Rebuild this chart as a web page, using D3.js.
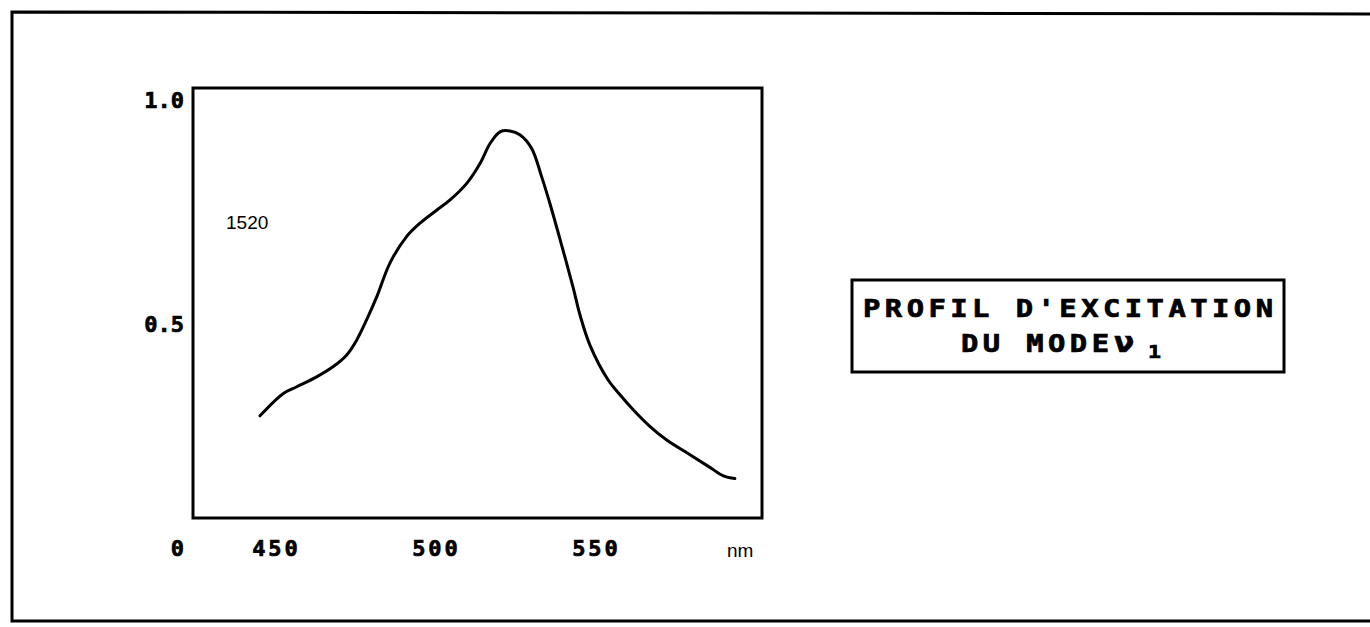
<!DOCTYPE html>
<html>
<head>
<meta charset="utf-8">
<script src="https://cdn.jsdelivr.net/npm/d3@7"></script>
<style>
  html, body { margin: 0; padding: 0; background: #fff; }
  svg { display: block; }
  .plotter { font-family: "DejaVu Sans Mono", monospace; font-weight: bold; fill: #000;
             stroke: #000; stroke-width: 0.7px; }
  .plain { font-family: "Liberation Sans", Arial, sans-serif; fill: #000; }
</style>
</head>
<body>
<svg id="chart" width="1370" height="627"></svg>
<script>
// Excitation profile of mode ν1 (sample 1520): intensity vs wavelength (nm)
const wavelengths = [445, 452.3, 456.5, 462.7, 467.9, 472.1, 475.2, 478.3, 481.5, 485.6,
                     490.8, 495, 500.2, 504.4, 509.6, 513.8, 516.9, 520, 523.1, 526.3,
                     529.9, 533, 535.6, 538.8, 542.9, 545, 548.1, 553.8, 557.5, 561.7,
                     566.9, 572.1, 579.4, 585.6, 589.8, 593.4];
const intensity   = [0.295, 0.345, 0.36, 0.382, 0.405, 0.431, 0.464, 0.509, 0.561, 0.636,
                     0.695, 0.725, 0.754, 0.777, 0.814, 0.859, 0.903, 0.929, 0.931, 0.922,
                     0.892, 0.829, 0.769, 0.688, 0.58, 0.52, 0.453, 0.375, 0.342, 0.308,
                     0.271, 0.241, 0.208, 0.18, 0.161, 0.155];

const xTicks = [450, 500, 550];
const yTicks = [0, 0.5, 1.0];
const yTickText = ["0", "0.5", "1.0"];
const unitLabel = "nm";
const sampleLabel = "1520";
const titleLine1 = "PROFIL D'EXCITATION";
const titleLine2 = "DU MODE";
const modeSymbol = "ν";
const modeIndex = "1";

const svg = d3.select("#chart");

// page frame (open on the right)
svg.append("path")
  .attr("d", "M1370,14 L12,12 L12,621 L1370,621")
  .attr("fill", "none").attr("stroke", "#000").attr("stroke-width", 3);

// plot frame
const frame = { left: 193, top: 88, right: 762, bottom: 518 };
svg.append("rect")
  .attr("x", frame.left).attr("y", frame.top)
  .attr("width", frame.right - frame.left).attr("height", frame.bottom - frame.top)
  .attr("fill", "none").attr("stroke", "#000").attr("stroke-width", 3);

const x = d3.scaleLinear().domain([450, 600]).range([276, 756]);
const y = d3.scaleLinear().domain([0, 1]).range([548, 100]);

// y axis labels
const yAxis = d3.axisLeft(y).tickValues(yTicks)
  .tickSize(0).tickPadding(0)
  .tickFormat((d, i) => yTickText[i]);
const gy = svg.append("g").attr("transform", "translate(184,0)").call(yAxis);
gy.select(".domain").remove();
gy.selectAll("text")
  .attr("class", "plotter")
  .attr("font-size", 22)
  .attr("dy", "0.36em")
  .style("font-feature-settings", '"zero"');

// x axis labels
const xAxis = d3.axisBottom(x).tickValues(xTicks)
  .tickSize(0).tickPadding(0)
  .tickFormat(d3.format("d"));
const gx = svg.append("g").attr("transform", "translate(0,548)").call(xAxis);
gx.select(".domain").remove();
gx.selectAll("text")
  .attr("class", "plotter")
  .attr("font-size", 22)
  .attr("letter-spacing", 3)
  .attr("dy", "0.36em")
  .style("font-feature-settings", '"zero"');

svg.append("text").attr("class", "plain")
  .attr("x", 727).attr("y", 557).attr("font-size", 19)
  .text(unitLabel);

svg.append("text").attr("class", "plain")
  .attr("x", 226).attr("y", 229).attr("font-size", 19)
  .text(sampleLabel);

// curve
const line = d3.line()
  .x((d, i) => x(wavelengths[i]))
  .y(d => y(d))
  .curve(d3.curveCatmullRom.alpha(0.5));
svg.append("path")
  .datum(intensity)
  .attr("d", line)
  .attr("fill", "none").attr("stroke", "#000")
  .attr("stroke-width", 3)
  .attr("stroke-linejoin", "round").attr("stroke-linecap", "round");

// title box
svg.append("rect")
  .attr("x", 852).attr("y", 280).attr("width", 432).attr("height", 92)
  .attr("fill", "none").attr("stroke", "#000").attr("stroke-width", 3);

// title text, widened horizontally like plotter lettering
const sx = 1.2;
svg.append("text").attr("class", "plotter")
  .attr("transform", `translate(863,317) scale(${sx},1)`)
  .attr("font-size", 24)
  .attr("textLength", 410 / sx).attr("lengthAdjust", "spacing")
  .text(titleLine1);

const t2 = svg.append("text").attr("class", "plotter")
  .attr("transform", `translate(961,352) scale(${sx},1)`)
  .attr("font-size", 24);
t2.append("tspan").attr("textLength", 148 / sx).attr("lengthAdjust", "spacing").text(titleLine2);
t2.append("tspan").attr("x", (1114 - 961) / sx).attr("font-size", 28).text(modeSymbol);
t2.append("tspan").attr("x", (1148 - 961) / sx).attr("dy", 6).attr("font-size", 18).text(modeIndex);
</script>
</body>
</html>
